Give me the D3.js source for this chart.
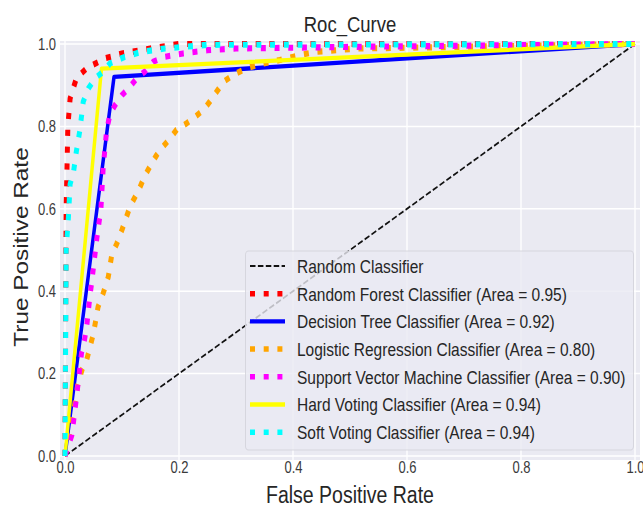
<!DOCTYPE html>
<html>
<head>
<meta charset="utf-8">
<script src="https://cdn.jsdelivr.net/npm/d3@7"></script>
<style>
  html, body { margin: 0; padding: 0; background: #ffffff; }
  svg { display: block; }
  text { font-family: "Liberation Sans", Arial, sans-serif; }
</style>
</head>
<body>
<div id="chart"></div>
<script>
// ---------- data ----------
const titleText = "Roc_Curve";
const xLabel = "False Positive Rate";
const yLabel = "True Positive Rate";
const xTicks = [0, 0.2, 0.4, 0.6, 0.8, 1.0];
const yTicks = [0, 0.2, 0.4, 0.6, 0.8, 1.0];

const randFpr = [0, 1];
const randTpr = [0, 1];

const rfFpr = [0, 0.002, 0.005, 0.009, 0.02, 0.038, 0.07, 0.1, 0.15, 0.2, 1];
const rfTpr = [0, 0.6, 0.8, 0.868, 0.917, 0.941, 0.965, 0.977, 0.989, 1.0, 1];

const dtFpr = [0, 0.086, 1];
const dtTpr = [0, 0.92, 1];

const lrFpr = [0, 0.012, 0.022, 0.03, 0.038, 0.044, 0.05, 0.058, 0.067, 0.076, 0.082, 0.091, 0.1, 0.114, 0.123, 0.132, 0.14, 0.152, 0.161, 0.172, 0.184, 0.196, 0.213, 0.228, 0.243, 0.254, 0.266, 0.278, 0.295, 0.319, 0.348, 0.377, 0.412, 0.44, 0.477, 0.512, 1];
const lrTpr = [0, 0.08, 0.17, 0.21, 0.233, 0.265, 0.298, 0.362, 0.395, 0.435, 0.488, 0.516, 0.549, 0.605, 0.629, 0.654, 0.68, 0.71, 0.731, 0.751, 0.77, 0.792, 0.807, 0.823, 0.84, 0.86, 0.884, 0.908, 0.925, 0.941, 0.953, 0.961, 0.973, 0.981, 0.985, 0.989, 1];

const svmFpr = [0, 0.012, 0.02, 0.029, 0.034, 0.038, 0.044, 0.047, 0.056, 0.063, 0.067, 0.073, 0.079, 0.088, 0.1, 0.114, 0.126, 0.14, 0.155, 0.175, 0.207, 0.25, 0.3, 0.5, 1];
const svmTpr = [0, 0.05, 0.14, 0.25, 0.28, 0.314, 0.391, 0.423, 0.53, 0.6, 0.7, 0.79, 0.83, 0.852, 0.876, 0.896, 0.917, 0.933, 0.957, 0.969, 0.977, 0.985, 0.989, 0.993, 1];

const hvFpr = [0, 0.064, 1];
const hvTpr = [0, 0.94, 1];

const svFpr = [0, 0.002, 0.006, 0.009, 0.015, 0.02, 0.026, 0.032, 0.041, 0.053, 0.067, 0.079, 0.105, 0.135, 0.175, 0.25, 1];
const svTpr = [0, 0.5, 0.58, 0.66, 0.69, 0.74, 0.79, 0.86, 0.892, 0.917, 0.933, 0.953, 0.969, 0.981, 0.989, 0.998, 1];

const seriesNames = [
  "Random Classifier",
  "Random Forest Classifier (Area = 0.95)",
  "Decision Tree Classifier (Area = 0.92)",
  "Logistic Regression Classifier (Area = 0.80)",
  "Support Vector Machine Classifier (Area = 0.90)",
  "Hard Voting Classifier (Area = 0.94)",
  "Soft Voting Classifier (Area = 0.94)"
];
const seriesFpr = [randFpr, rfFpr, dtFpr, lrFpr, svmFpr, hvFpr, svFpr];
const seriesTpr = [randTpr, rfTpr, dtTpr, lrTpr, svmTpr, hvTpr, svTpr];
const seriesColors = ["#111111", "#ff0000", "#0000ff", "#ffa500", "#ff00ff", "#ffff00", "#00ffff"];
const seriesStyle = ["dashed", "dotted", "solid", "dotted", "dotted", "solid", "dotted"];

// ---------- layout ----------
const W = 643, Hs = 508;
const sy = 1.23;                 // vertical stretch of the original picture
const H = Hs / sy;               // internal height
const Y = v => v / sy;           // convert screen y to internal y

const svg = d3.select("#chart").append("svg")
  .attr("width", W).attr("height", Hs);
svg.append("rect").attr("width", W).attr("height", Hs).attr("fill", "#ffffff");

const g = svg.append("g").attr("transform", `scale(1,${sy})`);

const x = d3.scaleLinear().domain([0, 1]).range([65, 635]);
const y = d3.scaleLinear().domain([0, 1]).range([Y(456), Y(44)]);

const bgLeft = 60, bgRight = 640, bgTop = Y(41), bgBottom = Y(460);

// background
g.append("rect")
  .attr("x", bgLeft).attr("y", bgTop)
  .attr("width", bgRight - bgLeft).attr("height", bgBottom - bgTop)
  .attr("fill", "#eaeaf2");

// grid
g.append("g").selectAll("line").data(xTicks).join("line")
  .attr("x1", d => x(d)).attr("x2", d => x(d))
  .attr("y1", bgTop).attr("y2", bgBottom)
  .attr("stroke", "#ffffff").attr("stroke-width", 1.3);
g.append("g").selectAll("line").data(yTicks).join("line")
  .attr("x1", bgLeft).attr("x2", bgRight)
  .attr("y1", d => y(d)).attr("y2", d => y(d))
  .attr("stroke", "#ffffff").attr("stroke-width", 1.2);

// axes (tick labels only, seaborn style)
const xAxis = d3.axisBottom(x).tickValues(xTicks).tickFormat(d3.format(".1f")).tickSize(0).tickPadding(0);
const yAxis = d3.axisLeft(y).tickValues(yTicks).tickFormat(d3.format(".1f")).tickSize(0).tickPadding(0);

const gx = g.append("g").attr("transform", `translate(0,${Y(462)})`).call(xAxis);
gx.select(".domain").remove();
gx.selectAll("text").attr("font-size", 13).attr("fill", "#3a3a3a")
  .attr("font-family", "Liberation Sans, Arial, sans-serif").attr("dy", "0.71em");

const gy = g.append("g").attr("transform", `translate(56,0)`).call(yAxis);
gy.select(".domain").remove();
gy.selectAll("text").attr("font-size", 13).attr("fill", "#3a3a3a")
  .attr("font-family", "Liberation Sans, Arial, sans-serif");

// curves
const line = d3.line().x(d => x(d[0])).y(d => y(d[1]));
function dash(style) {
  if (style === "dashed") return "5.5 2.4";
  if (style === "dotted") return "5 8.7";
  return null;
}
function width(style) {
  if (style === "dashed") return 1.5;
  if (style === "dotted") return 5;
  return 3.5;
}
seriesNames.forEach((name, i) => {
  const pts = seriesFpr[i].map((f, k) => [f, seriesTpr[i][k]]);
  g.append("path")
    .datum(pts)
    .attr("d", line)
    .attr("fill", "none")
    .attr("stroke", seriesColors[i])
    .attr("stroke-width", width(seriesStyle[i]))
    .attr("stroke-dasharray", dash(seriesStyle[i]))
    .attr("stroke-linecap", "butt")
    .attr("stroke-linejoin", "round");
});

// title & labels
g.append("text").attr("x", 350).attr("y", Y(32))
  .attr("text-anchor", "middle").attr("font-size", 18.5).attr("fill", "#262626")
  .text(titleText);
g.append("text").attr("x", 350).attr("y", Y(503))
  .attr("text-anchor", "middle").attr("font-size", 19.5).attr("fill", "#262626")
  .text(xLabel);
g.append("text")
  .attr("transform", `translate(28,${Y(247)}) rotate(-90)`)
  .attr("text-anchor", "middle").attr("font-size", 19.8).attr("fill", "#262626")
  .text(yLabel);

// legend
const lg = g.append("g");
lg.append("rect")
  .attr("x", 245.5).attr("y", Y(251))
  .attr("width", 633.5 - 245.5).attr("height", Y(450) - Y(251))
  .attr("rx", 3).attr("ry", 3)
  .attr("fill", "#eaeaf2").attr("fill-opacity", 0.8)
  .attr("stroke", "#d4d4dc").attr("stroke-opacity", 0.9).attr("stroke-width", 1);

const rowY0 = Y(266), rowStep = Y(27.7);
seriesNames.forEach((name, i) => {
  const ry = rowY0 + i * rowStep;
  lg.append("line")
    .attr("x1", 250).attr("x2", 285).attr("y1", ry).attr("y2", ry)
    .attr("stroke", seriesColors[i])
    .attr("stroke-width", width(seriesStyle[i]) * (seriesStyle[i] === "dotted" ? 0.9 : 1))
    .attr("stroke-dasharray", dash(seriesStyle[i]))
    .attr("stroke-linecap", "butt");
  lg.append("text")
    .attr("x", 297).attr("y", ry).attr("dy", "0.36em")
    .attr("font-size", 15.5).attr("fill", "#262626")
    .text(name);
});
</script>
</body>
</html>
